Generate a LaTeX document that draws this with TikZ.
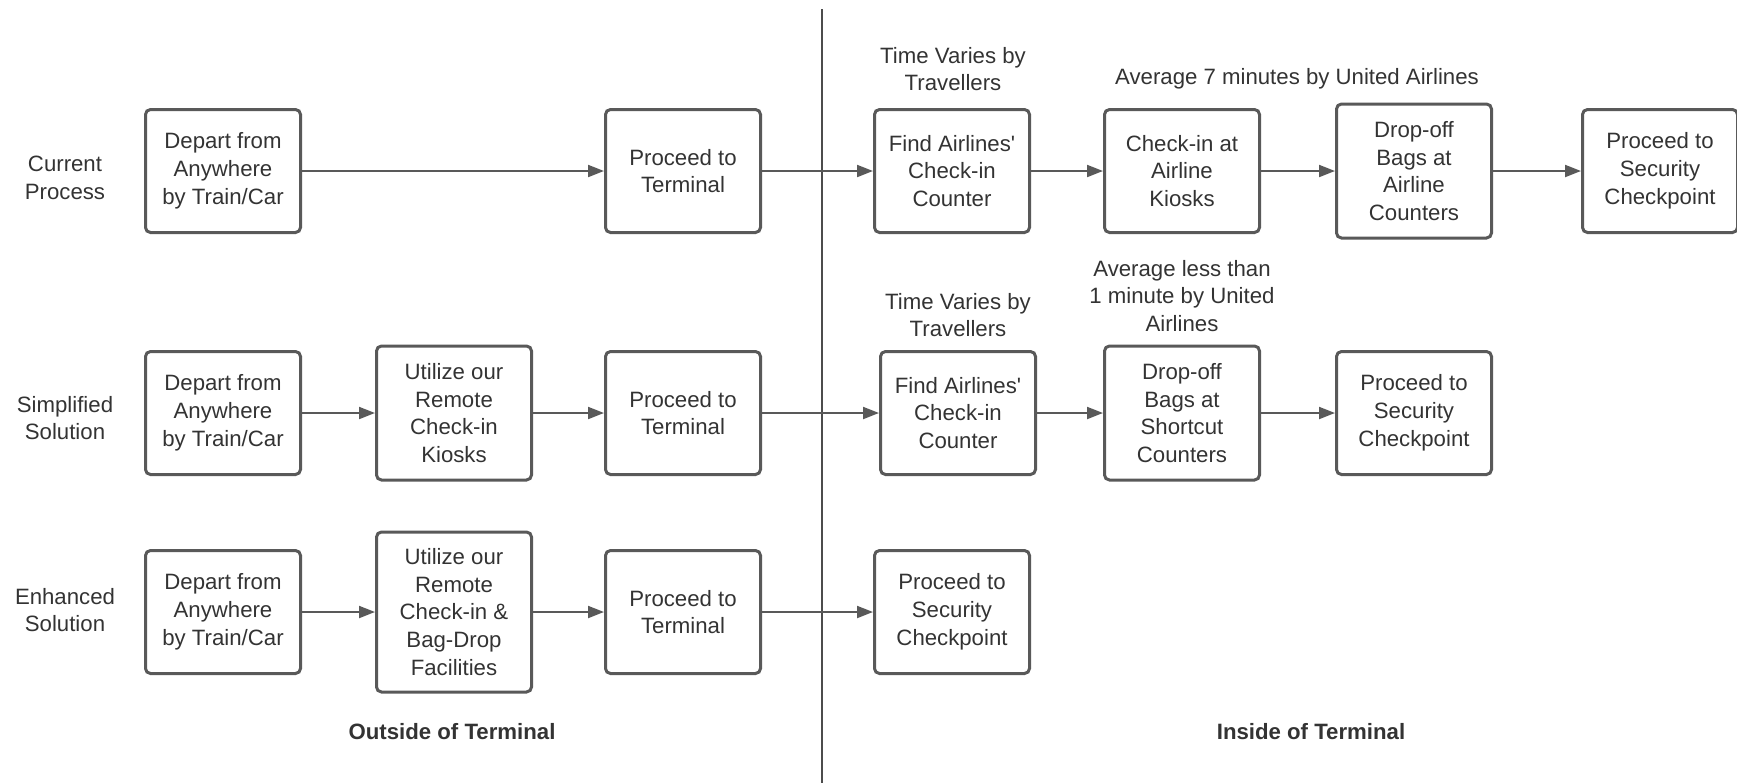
\documentclass[tikz,border=0pt]{standalone}
\usepackage{fontspec}
\setmainfont{Liberation Sans}
\usetikzlibrary{arrows.meta}
\definecolor{boxgray}{HTML}{595959}
\definecolor{txtgray}{HTML}{333333}

\begin{document}
\begin{tikzpicture}[x=0.5pt,y=-0.5pt,
  font=\fontsize{11.1}{13.9}\selectfont, text=txtgray,
  stepbox/.style={draw=boxgray,line width=1.5pt,rounded corners=2.5pt,align=center,
    minimum width=77.5pt,minimum height=61.5pt,inner sep=2pt},
  tallbox/.style={stepbox,minimum height=67pt},
  flow/.style={draw=boxgray,line width=1pt,-{Triangle[length=8pt,width=6pt]}},
  note/.style={align=center}]
  \useasboundingbox (0,0) rectangle (1737,783);
  % divider between outside and inside
  \coordinate (top) at (822,9);
  \coordinate (bot) at (822,783);
  \draw[line width=1.2pt,draw=boxgray!85!black] (top) -- (bot);
  % row labels
  \node[note] (lab1) at (65,178) {Current\\Process};
  \node[note] (lab2) at (65,418) {Simplified\\Solution};
  \node[note] (lab3) at (65,610) {Enhanced\\Solution};
  % outside of terminal
  \foreach \r/\y in {1/171,2/413,3/612}{
    \node[stepbox] (dep\r) at (223,\y) {Depart from\\Anywhere\\by Train/Car};
    \node[stepbox] (term\r) at (683,\y) {Proceed to\\Terminal};
  }
  \node[tallbox] (rem2) at (454,413) {Utilize our\\Remote\\Check-in\\Kiosks};
  \node[stepbox,minimum height=80pt] (rem3) at (454,612) {Utilize our\\Remote\\Check-in \&\\Bag-Drop\\Facilities};
  % inside of terminal
  \node[stepbox] (find1) at (952,171) {Find Airlines\textquotesingle\\Check-in\\Counter};
  \node[stepbox] (kiosk1) at (1182,171) {Check-in at\\Airline\\Kiosks};
  \node[tallbox] (drop1) at (1414,171) {Drop-off\\Bags at\\Airline\\Counters};
  \node[stepbox] (sec1) at (1660,171) {Proceed to\\Security\\Checkpoint};
  \node[stepbox] (find2) at (958,413) {Find Airlines\textquotesingle\\Check-in\\Counter};
  \node[tallbox] (drop2) at (1182,413) {Drop-off\\Bags at\\Shortcut\\Counters};
  \node[stepbox] (sec2) at (1414,413) {Proceed to\\Security\\Checkpoint};
  \node[stepbox] (sec3) at (952,612) {Proceed to\\Security\\Checkpoint};
  % timing notes
  \node[note] (time1) at (953,69) {Time Varies by\\Travellers};
  \node[note] (avg1) at (1297,79) {Average 7 minutes by United Airlines};
  \node[note] (time2) at (958,315) {Time Varies by\\Travellers};
  \node[note] (avg2) at (1182,296) {Average less than\\1 minute by United\\Airlines};
  % flows
  \draw[flow] (dep1) -- (term1);
  \draw[flow] (term1) -- (find1);
  \draw[flow] (find1) -- (kiosk1);
  \draw[flow] (kiosk1) -- (drop1);
  \draw[flow] (drop1) -- (sec1);
  \draw[flow] (dep2) -- (rem2);
  \draw[flow] (rem2) -- (term2);
  \draw[flow] (term2) -- (find2);
  \draw[flow] (find2) -- (drop2);
  \draw[flow] (drop2) -- (sec2);
  \draw[flow] (dep3) -- (rem3);
  \draw[flow] (rem3) -- (term3);
  \draw[flow] (term3) -- (sec3);
  % area captions
  \node[font=\fontsize{11.1}{13.9}\selectfont\bfseries] (outside) at (452,732) {Outside of Terminal};
  \node[font=\fontsize{11.1}{13.9}\selectfont\bfseries] (inside) at (1311,732) {Inside of Terminal};
\end{tikzpicture}
\end{document}
